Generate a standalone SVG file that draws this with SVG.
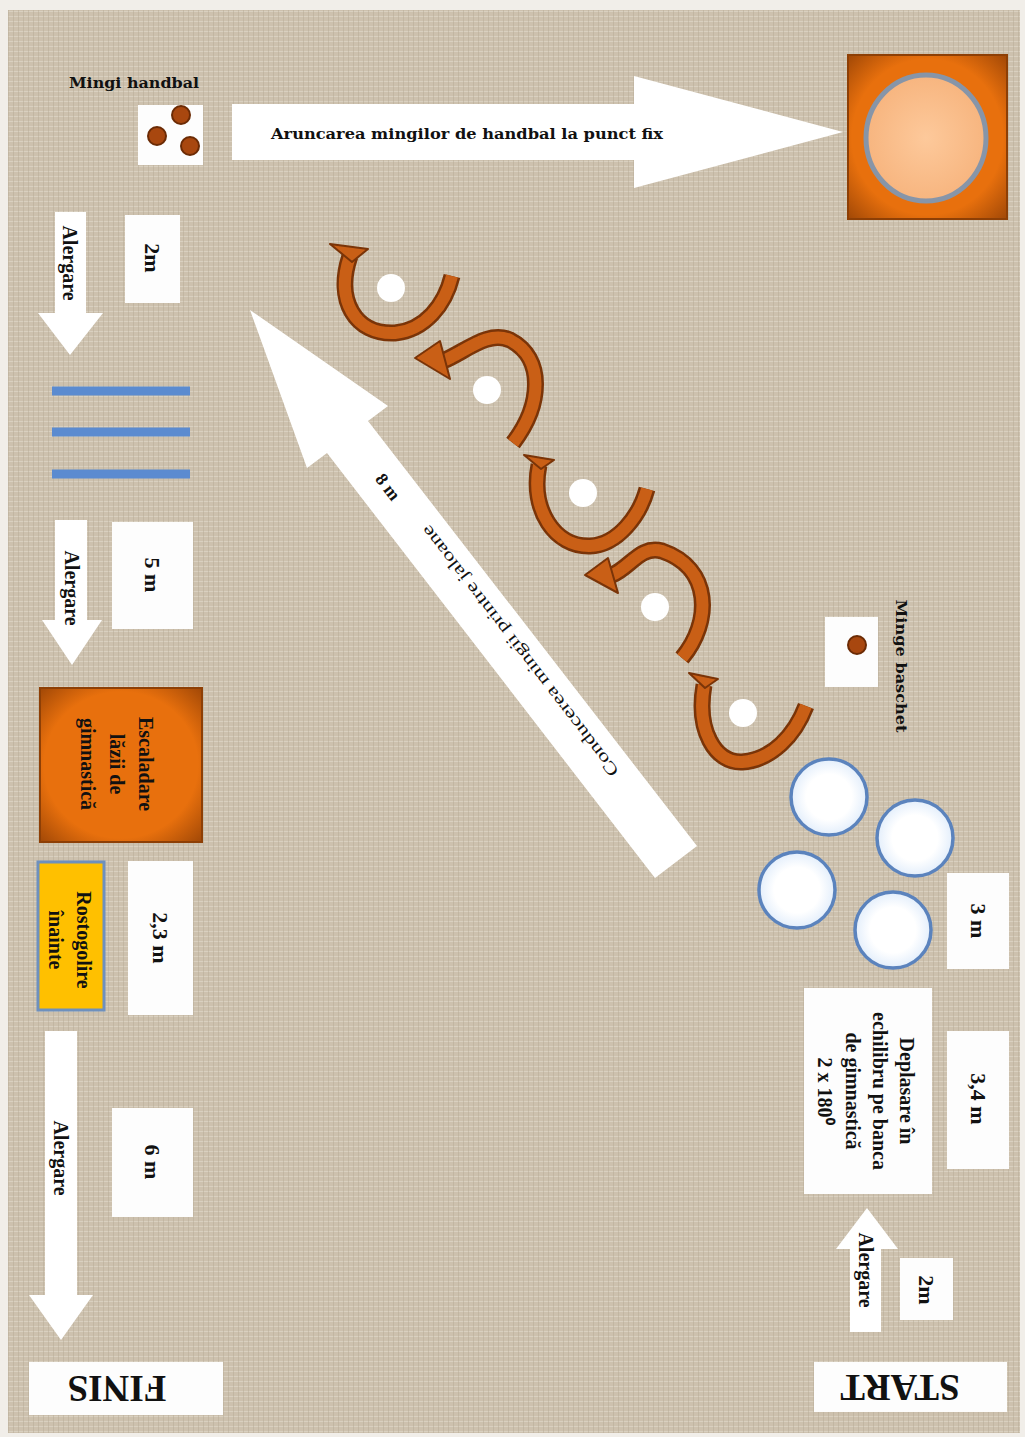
<svg xmlns="http://www.w3.org/2000/svg" width="1025" height="1437" viewBox="0 0 1025 1437">
<style>
.box{fill:#fdfdfd}
.lbl{font-family:"Liberation Serif",serif;font-weight:bold;font-size:22px;text-anchor:middle;dominant-baseline:central;fill:#111}
.run{font-family:"Liberation Serif",serif;font-weight:bold;font-size:20px;text-anchor:middle;dominant-baseline:central;fill:#111}
.wide{font-family:"DejaVu Serif",serif;font-weight:bold;font-size:15px;text-anchor:middle;fill:#111}
.big{font-family:"Liberation Serif",serif;font-weight:bold;font-size:37px;text-anchor:middle;dominant-baseline:central;fill:#111}
.blk{fill:#ffffff}
.ribO{fill:none;stroke:#7a3408;stroke-width:17}
.ribI{fill:none;stroke:#c95f16;stroke-width:12}
.head{fill:#c95f16;stroke:#7a3408;stroke-width:2;stroke-linejoin:round}
.dot{fill:#ffffff}
.hoop{fill:url(#hoopG);stroke:#5b83bd;stroke-width:3.5}
.ball{fill:#a8470f;stroke:#6b2b05;stroke-width:2}
.bar{stroke:#5b8bd0;stroke-width:9}
</style>
<defs>
<pattern id="cloth" width="5" height="5" patternUnits="userSpaceOnUse">
<rect width="5" height="5" fill="#cdc1ae"/>
<path d="M0 1.5H5" stroke="#dcd3c4" stroke-width="1" opacity="0.8"/>
<path d="M3.5 0V5" stroke="#b8ab96" stroke-width="1" opacity="0.5"/>
</pattern>
<radialGradient id="orangeG" cx="50%" cy="50%" r="72%">
<stop offset="0.66" stop-color="#e8700d"/>
<stop offset="1" stop-color="#9c4506"/>
</radialGradient>
<radialGradient id="discG" cx="50%" cy="50%" r="50%">
<stop offset="0" stop-color="#fdc99b"/>
<stop offset="1" stop-color="#f7b57f"/>
</radialGradient>
<radialGradient id="hoopG" cx="50%" cy="50%" r="50%">
<stop offset="0.6" stop-color="#ffffff"/>
<stop offset="1" stop-color="#e3eefb"/>
</radialGradient>
<path id="rA" d="M350,256 C335,300 355,335 395,333 C425,330 445,305 452,276"/>
<path id="rB" d="M513,443 C542,405 545,358 510,340 C488,330 465,352 443,361"/>
<path id="rC" d="M539,465 C530,510 555,547 590,546 C618,545 640,515 647,489"/>
<path id="rD" d="M682,658 C712,622 712,568 662,551 C640,545 630,568 612,575"/>
<path id="rE" d="M704,685 C696,730 715,763 742,762 C772,760 795,735 806,706"/>
</defs>

<rect width="1025" height="1437" fill="#f1eee9"/>
<rect x="8" y="10" width="1012" height="1423" fill="url(#cloth)"/>

<g id="connectors">
<g id="arrow-throw">
<polygon class="blk" points="232,104 634,104 634,76 843,132 634,188 634,160 232,160"/>
<text class="wide" x="467" y="139" textLength="392" lengthAdjust="spacingAndGlyphs">Aruncarea mingilor  de handbal la punct fix</text>
</g>
<g id="arrow-run1">
<polygon class="blk" points="55,212 86,212 86,313 103,313 70,355 38,313 55,313"/>
<text class="run" transform="translate(70,263) rotate(90)">Alergare</text>
</g>
<g id="arrow-run2">
<polygon class="blk" points="55,520 87,520 87,620 102,620 72,665 42,620 55,620"/>
<text class="run" transform="translate(72,588) rotate(90)">Alergare</text>
</g>
<g id="arrow-run3">
<polygon class="blk" points="45,1031 77,1031 77,1295 93,1295 61,1340 29,1295 45,1295"/>
<text class="run" transform="translate(61,1158) rotate(90)">Alergare</text>
</g>
<g id="arrow-run4">
<polygon class="blk" points="850,1332 881,1332 881,1249 898,1249 867,1208 836,1249 850,1249"/>
<text class="run" transform="translate(866,1270) rotate(90)">Alergare</text>
</g>
<g id="arrow-dribble">
<polygon class="blk" points="250,310 388,406 368,421 697,846 655,878 327,453 307,468"/>
<text transform="translate(520,651) rotate(-127.6)" font-family="Liberation Serif, serif" font-size="17" text-anchor="middle" dominant-baseline="central" fill="#111" textLength="312" lengthAdjust="spacingAndGlyphs">Conducerea mingii printre jaloane</text>
<text transform="translate(388,487) rotate(52.4)" font-family="Liberation Serif, serif" font-weight="bold" font-size="18" text-anchor="middle" dominant-baseline="central" fill="#111">8 m</text>
</g>
<g id="ribbons">
<use href="#rA" class="ribO"/><use href="#rA" class="ribI"/>
<polygon class="head" points="330,244 368,249 352,262"/>
<use href="#rB" class="ribO"/><use href="#rB" class="ribI"/>
<polygon class="head" points="415,358 440,341 450,379"/>
<use href="#rC" class="ribO"/><use href="#rC" class="ribI"/>
<polygon class="head" points="524,455 554,460 541,469"/>
<use href="#rD" class="ribO"/><use href="#rD" class="ribI"/>
<polygon class="head" points="585,575 608,558 618,593"/>
<use href="#rE" class="ribO"/><use href="#rE" class="ribI"/>
<polygon class="head" points="689,673 718,679 705,688"/>
</g>
</g>

<g id="cones">
<circle class="dot" cx="391" cy="288" r="14"/>
<circle class="dot" cx="487" cy="390" r="14"/>
<circle class="dot" cx="583" cy="493" r="14"/>
<circle class="dot" cx="655" cy="607" r="14"/>
<circle class="dot" cx="743" cy="713" r="14"/>
</g>

<g id="handballs">
<text class="wide" x="134" y="88" textLength="130" lengthAdjust="spacingAndGlyphs">Mingi handbal</text>
<rect class="box" x="138" y="105" width="65" height="60"/>
<circle class="ball" cx="181" cy="115" r="9"/>
<circle class="ball" cx="157" cy="136" r="9"/>
<circle class="ball" cx="190" cy="146" r="9"/>
</g>

<g id="target">
<rect x="848" y="55" width="159" height="164" fill="url(#orangeG)" stroke="#8e3f05" stroke-width="2"/>
<ellipse cx="926" cy="138" rx="60" ry="63" fill="url(#discG)" stroke="#8795a8" stroke-width="5"/>
</g>

<g id="dim-2m-top"><rect class="box" x="125" y="215" width="55" height="88"/><text class="lbl" transform="translate(152,258) rotate(90)">2m</text></g>

<g id="hurdles">
<line class="bar" x1="52" y1="391" x2="190" y2="391"/>
<line class="bar" x1="52" y1="432" x2="190" y2="432"/>
<line class="bar" x1="52" y1="474" x2="190" y2="474"/>
</g>

<g id="dim-5m"><rect class="box" x="112" y="522" width="81" height="107"/><text class="lbl" transform="translate(152,575) rotate(90)">5 m</text></g>

<g id="box-climb">
<rect x="40" y="688" width="162" height="154" fill="url(#orangeG)" stroke="#8e3f05" stroke-width="2"/>
<text class="run" transform="translate(117,764) rotate(90)"><tspan x="0" y="-29">Escaladare</tspan><tspan x="0" y="0">lăzii de</tspan><tspan x="0" y="29">gimnastică</tspan></text>
</g>

<g id="roll">
<rect x="38" y="862" width="66" height="148" fill="#ffc000" stroke="#6e90bd" stroke-width="3"/>
<text class="run" transform="translate(70,940) rotate(90)"><tspan x="0" y="-14">Rostogolire</tspan><tspan x="0" y="14">înainte</tspan></text>
</g>

<g id="dim-23m"><rect class="box" x="128" y="861" width="65" height="154"/><text class="lbl" transform="translate(160,938) rotate(90)">2,3 m</text></g>

<g id="dim-6m"><rect class="box" x="112" y="1108" width="81" height="109"/><text class="lbl" transform="translate(152,1162) rotate(90)">6 m</text></g>

<g id="finis"><rect class="box" x="29" y="1362" width="194" height="53"/><text class="big" transform="translate(117,1388) rotate(180)">FINIS</text></g>

<g id="start"><rect class="box" x="814" y="1362" width="193" height="50"/><text class="big" transform="translate(900,1387) rotate(180)">START</text></g>

<g id="dim-2m-bottom"><rect class="box" x="900" y="1258" width="53" height="62"/><text class="lbl" transform="translate(926,1290) rotate(90)">2m</text></g>

<g id="beam">
<rect class="box" x="804" y="988" width="128" height="206"/>
<text class="run" transform="translate(866,1091) rotate(90)"><tspan x="0" y="-41">Deplasare în</tspan><tspan x="0" y="-13.5">echilibru pe banca</tspan><tspan x="0" y="13.5">de gimnastică</tspan><tspan x="0" y="41">2 x 180⁰</tspan></text>
</g>

<g id="dim-34m"><rect class="box" x="947" y="1031" width="62" height="138"/><text class="lbl" transform="translate(978,1099) rotate(90)">3,4 m</text></g>

<g id="dim-3m"><rect class="box" x="947" y="873" width="62" height="96"/><text class="lbl" transform="translate(978,921) rotate(90)">3 m</text></g>

<g id="hoops">
<circle class="hoop" cx="829" cy="797" r="38"/>
<circle class="hoop" cx="915" cy="838" r="38"/>
<circle class="hoop" cx="797" cy="890" r="38"/>
<circle class="hoop" cx="893" cy="930" r="38"/>
</g>

<g id="basketball">
<rect class="box" x="825" y="617" width="53" height="70"/>
<circle class="ball" cx="857" cy="645" r="9"/>
<text class="wide" dominant-baseline="central" transform="translate(901,666) rotate(90)" textLength="133" lengthAdjust="spacingAndGlyphs">Minge baschet</text>
</g>
</svg>
